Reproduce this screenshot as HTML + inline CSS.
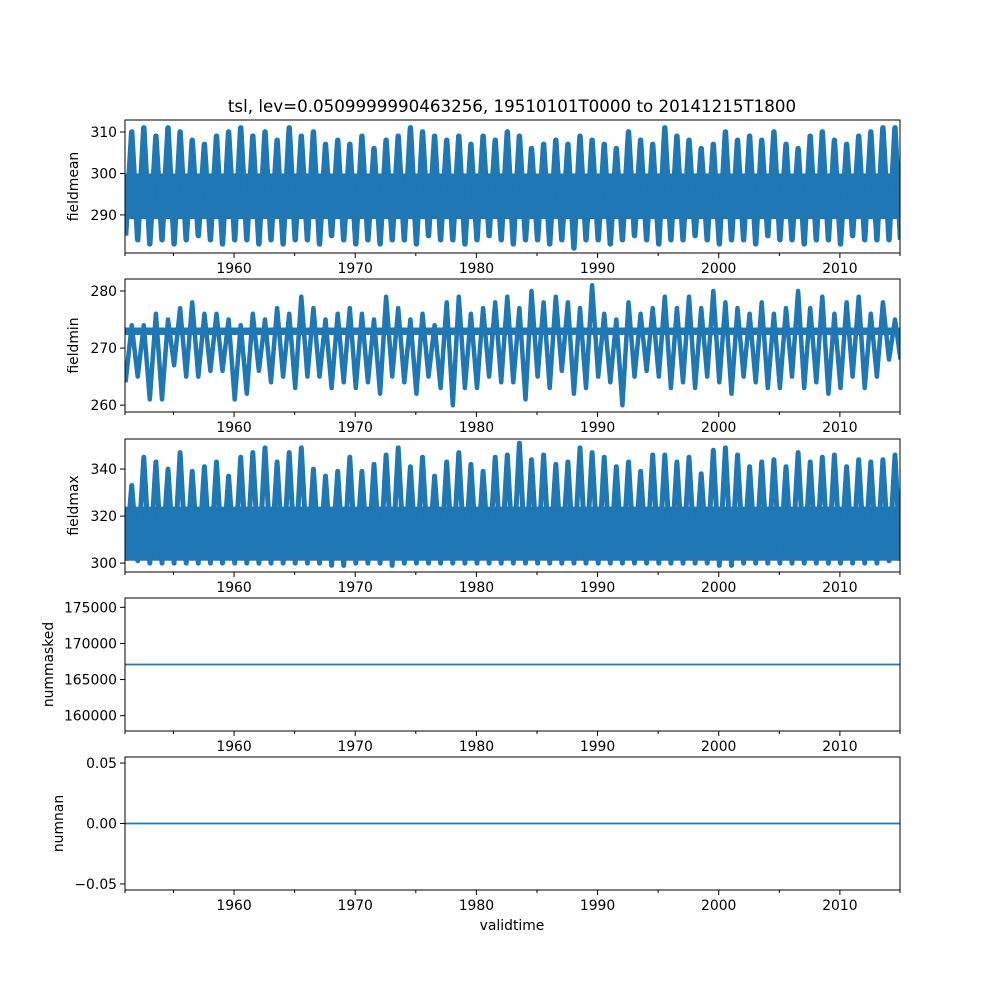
<!DOCTYPE html>
<html><head><meta charset="utf-8"><style>
body{margin:0;background:#fff}
svg text{font-family:"DejaVu Sans","Liberation Sans",sans-serif;fill:#000}
</style></head><body>
<svg id="fig" width="1000" height="1000" xmlns="http://www.w3.org/2000/svg">
<rect width="1000" height="1000" fill="#fff"/>
<text x="512" y="112" font-size="16.7" text-anchor="middle">tsl, lev=0.0509999990463256, 19510101T0000 to 20141215T1800</text>
<text x="512" y="930" font-size="13.9" text-anchor="middle">validtime</text>
</svg>
<script>
const years = [];
for (let y = 1951; y <= 2014; y++) years.push(y);
const meanPeaks = [310,311,309,311,310,308,307,309,310,311,309,310,308,311,309,310,307,308,307,309,306,308,309,311,310,309,308,309,307,309,308,310,309,306,307,308,307,309,308,307,306,310,308,307,311,309,308,306,307,310,308,309,308,310,307,306,309,310,308,307,309,310,311,311];
const meanTroughs = [285,284,283,284,283,284,285,284,283,284,284,283,284,283,284,284,283,285,284,283,284,283,284,284,283,285,284,284,283,284,285,284,283,284,284,283,284,282,284,284,283,284,285,284,283,284,284,285,284,283,284,284,283,285,284,284,283,284,284,283,285,284,284,284];
const minPeaks = [274,274,276,275,277,278,276,276,275,274,276,275,277,276,279,277,275,276,277,276,275,279,277,275,276,274,278,279,276,277,278,279,277,280,278,279,278,277,281,276,275,278,276,277,279,277,279,277,280,278,277,276,278,276,277,280,277,279,276,278,279,276,278,275];
const minTroughs = [264,265,261,261,267,265,265,266,266,261,262,266,264,265,263,265,265,263,264,263,264,262,265,264,262,265,263,260,263,263,265,264,264,261,265,263,266,262,263,265,264,260,265,266,265,263,264,263,265,264,262,265,264,263,263,265,263,264,262,263,265,263,265,268];
const maxPeaks = [333,345,343,340,347,339,341,343,337,345,347,349,343,347,349,340,337,339,345,339,342,346,349,341,345,337,343,347,342,339,345,346,351,344,346,342,343,349,347,345,341,343,339,346,346,343,345,338,348,349,346,341,343,344,341,347,343,345,346,341,344,343,344,346];
const maxTroughs = [301,301,300,300,300,300,300,300,300,300,300,300,300,300,300,300,300,299,299,300,300,300,299,300,300,300,300,300,300,300,300,300,300,300,300,300,300,300,300,300,300,300,300,300,300,300,300,300,300,299,299,300,300,300,300,300,300,300,300,300,300,300,300,301];
const nummaskedValue = 167085;
const numnanValue = 0;
const xTicks = [1960,1970,1980,1990,2000,2010];
const xMinorTicks = [1951,1955,1965,1975,1985,1995,2005,2015];

const NS = 'http://www.w3.org/2000/svg';
const svg = document.getElementById('fig');
const X0 = 125, X1 = 900, T0 = 1951.0, T1 = 2014.96;
function xs(t){ return X0 + (t - T0) / (T1 - T0) * (X1 - X0); }
function mk(tag, attrs){ const e = document.createElementNS(NS, tag); for (const k in attrs) e.setAttribute(k, attrs[k]); return e; }

const panels = [
 {name:'fieldmean', top:120, bot:253, lo:280.8, hi:312.9, ticks:[290,300,310], fmt:v=>String(v), labx:78, core:[289,300], sw:5.5, peaks:meanPeaks, troughs:meanTroughs},
 {name:'fieldmin', top:279, bot:412, lo:258.8, hi:282.1, ticks:[260,270,280], fmt:v=>String(v), labx:78, core:[272.3,273.6], sw:4.5, peaks:minPeaks, troughs:minTroughs},
 {name:'fieldmax', top:439, bot:572, lo:296.2, hi:352.8, ticks:[300,320,340], fmt:v=>String(v), labx:78, core:[301,324], sw:5, peaks:maxPeaks, troughs:maxTroughs},
 {name:'nummasked', top:598, bot:731, lo:157880, hi:176290, ticks:[160000,165000,170000,175000], fmt:v=>String(v), labx:53, flat:nummaskedValue},
 {name:'numnan', top:757, bot:890, lo:-0.055, hi:0.055, ticks:[-0.05,0,0.05], fmt:v=>(v<0?'\u22120.05':v.toFixed(2)), labx:63, flat:numnanValue}
];

panels.forEach(p => {
  const ys = v => p.bot - (v - p.lo) / (p.hi - p.lo) * (p.bot - p.top);
  const g = mk('g', {});
  
  
  svg.appendChild(g);
  const clipId = 'clip-' + p.name;
  const cp = mk('clipPath', {id: clipId});
  cp.appendChild(mk('rect', {x:X0, y:p.top, width:X1-X0, height:p.bot-p.top}));
  g.appendChild(cp);
  const dg = mk('g', {'clip-path':'url(#' + clipId + ')'});
  
  
  g.appendChild(dg);
  if (p.flat !== undefined) {
    const l = mk('line', {x1:X0, x2:X1, y1:ys(p.flat), y2:ys(p.flat), stroke:'#1f77b4', 'stroke-width':1.8});
    
    
    dg.appendChild(l);
  } else {
    const band = mk('rect', {x:X0, width:X1-X0, y:ys(p.core[1]), height:ys(p.core[0]) - ys(p.core[1]), fill:'#1f77b4'});
    
    
    dg.appendChild(band);
    let d = '';
    years.forEach((yr, i) => {
      const tT = yr + 0.05, tP = yr + 0.55;
      d += (i === 0 ? 'M' : 'L') + xs(tT).toFixed(1) + ',' + ys(p.troughs[i]).toFixed(1);
      d += 'L' + xs(tP).toFixed(1) + ',' + ys(p.peaks[i]).toFixed(1);
    });
    d += 'L' + xs(2015).toFixed(1) + ',' + ys(p.troughs[p.troughs.length-1]).toFixed(1);
    const path = mk('path', {d:d, fill:'none', stroke:'#1f77b4', 'stroke-width':p.sw, 'stroke-linejoin':'round'});
    
    
    dg.appendChild(path);
  }
  const frame = mk('rect', {x:X0, y:p.top, width:X1-X0, height:p.bot-p.top, fill:'none', stroke:'#000', 'stroke-width':1});
  
  
  g.appendChild(frame);
  p.ticks.forEach(v => {
    const y = ys(v);
    g.appendChild(mk('line', {x1:X0-5, x2:X0, y1:y, y2:y, stroke:'#000', 'stroke-width':1}));
    const t = mk('text', {x:X0-8, y:y+5, 'font-size':13.9, 'text-anchor':'end'});
    
    
    t.textContent = p.fmt(v);
    g.appendChild(t);
  });
  xTicks.forEach(v => {
    const x = xs(v);
    g.appendChild(mk('line', {x1:x, x2:x, y1:p.bot, y2:p.bot+5, stroke:'#000', 'stroke-width':1}));
    const t = mk('text', {x:x, y:p.bot+20, 'font-size':13.9, 'text-anchor':'middle'});
    
    
    t.textContent = String(v);
    g.appendChild(t);
  });
  xMinorTicks.forEach(v => {
    const x = Math.min(xs(v), X1);
    g.appendChild(mk('line', {x1:x, x2:x, y1:p.bot, y2:p.bot+3, stroke:'#000', 'stroke-width':1}));
  });
  const cy = (p.top + p.bot) / 2;
  const lab = mk('text', {x:p.labx, y:cy, 'font-size':13.9, 'text-anchor':'middle', transform:'rotate(-90 ' + p.labx + ' ' + cy + ')'});
  
  
  lab.textContent = p.name;
  g.appendChild(lab);
});
</script>
</body></html>
